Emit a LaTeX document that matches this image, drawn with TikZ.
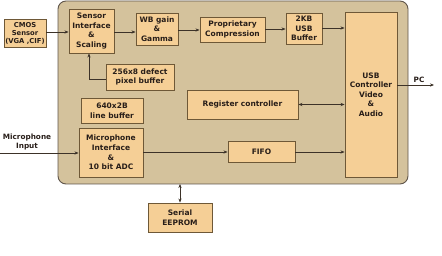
\documentclass[tikz,border=0pt]{standalone}
\usepackage{fontspec}
\setmainfont{DejaVu Sans}
\usetikzlibrary{arrows.meta}
\definecolor{bgfill}{RGB}{212,194,156}
\definecolor{bgline}{RGB}{95,85,75}
\definecolor{boxfill}{RGB}{245,207,150}
\definecolor{boxline}{RGB}{110,88,55}
\definecolor{arr}{RGB}{60,50,40}
\definecolor{txt}{RGB}{40,30,25}
\tikzset{
  blk/.style={draw=boxline, line width=0.9pt, fill=boxfill, align=center, inner sep=0pt,
    font=\bfseries\fontsize{7.5}{9.6}\selectfont, text=txt},
  conn/.style={draw=arr, line width=0.6pt, -{Stealth[length=4pt,width=3.2pt]}},
  bconn/.style={draw=arr, line width=0.6pt, {Stealth[length=4pt,width=3.2pt]}-{Stealth[length=4pt,width=3.2pt]}},
  lbl/.style={align=center, inner sep=0pt, font=\bfseries\fontsize{7.3}{8.5}\selectfont, text=txt}
}
\begin{document}
\begin{tikzpicture}[x=1pt,y=-1pt]
\useasboundingbox (0,0) rectangle (442,256);
\draw[fill=bgfill, draw=bgline, line width=0.9pt, rounded corners=8pt] (58,1) rectangle (408,184);

\node[blk, minimum width=42pt, minimum height=28pt, font=\bfseries\fontsize{6.8}{8}\selectfont] (cmos) at (25,33) {CMOS\\Sensor\\(VGA ,CIF)};
\node[blk, minimum width=45pt, minimum height=44pt] (sens) at (91.5,31) {Sensor\\Interface\\\&\\Scaling};
\node[blk, minimum width=42pt, minimum height=32pt] (wb) at (157,29) {WB gain\\\&\\Gamma};
\node[blk, minimum width=65pt, minimum height=25pt] (prop) at (232.5,29.5) {Proprietary\\Compression};
\node[blk, minimum width=36pt, minimum height=31pt] (buf) at (304,28.5) {2KB\\USB\\Buffer};
\node[blk, minimum width=52pt, minimum height=165pt] (usb) at (371,94.5) {USB\\Controller\\Video\\\&\\Audio};
\node[blk, minimum width=111pt, minimum height=29pt] (reg) at (242.5,104.5) {Register controller};
\node[blk, minimum width=68pt, minimum height=26pt] (def) at (140,77) {256x8 defect\\pixel buffer};
\node[blk, minimum width=62pt, minimum height=25pt] (line) at (112,110.5) {640x2B\\line buffer};
\node[blk, minimum width=64pt, minimum height=49pt] (mic) at (111,152.5) {Microphone\\Interface\\\&\\10 bit ADC};
\node[blk, minimum width=67pt, minimum height=21pt] (fifo) at (261.5,151.5) {FIFO};
\node[blk, minimum width=64pt, minimum height=29pt] (eep) at (180,217.5) {Serial\\EEPROM};

\coordinate (micin) at (0,153);
\coordinate (pcout) at (434,85);
\coordinate (bgbot) at (180,184);
\node[lbl] (miclbl) at (27,142) {Microphone\\Input};
\node[lbl] (pclbl) at (419,80) {PC};

\draw[conn] (cmos.east |- 0,32) -- (sens.west |- 0,32);
\draw[conn] (sens.east |- 0,32) -- (wb.west |- 0,32);
\draw[conn] (wb.east |- 0,30) -- (prop.west |- 0,30);
\draw[conn] (prop.east |- 0,29) -- (buf.west |- 0,29);
\draw[conn] (buf.east |- 0,28) -- (usb.west |- 0,28);
\draw[conn] (def.west |- 0,79) -| (sens.south -| 89,0);
\draw[bconn] (reg.east) -- (usb.west |- reg.east);
\draw[conn] (usb.east |- pcout) -- (pcout);
\draw[conn] (micin) -- (mic.west |- micin);
\draw[conn] (mic.east |- 0,152) -- (fifo.west |- 0,152);
\draw[conn] (fifo.east |- 0,152) -- (usb.west |- 0,152);
\draw[bconn] (bgbot) -- (eep.north);
\end{tikzpicture}
\end{document}
